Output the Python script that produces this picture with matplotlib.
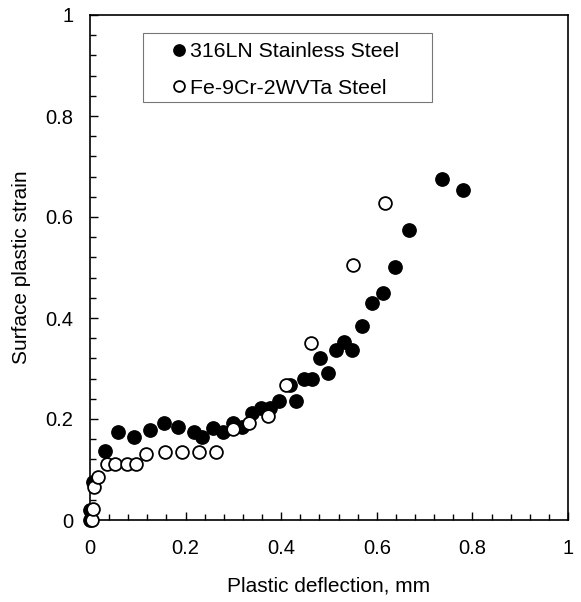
import matplotlib
matplotlib.use("Agg")
import matplotlib.pyplot as plt
from matplotlib.ticker import MultipleLocator
from matplotlib.patches import Rectangle

plt.rcParams['font.family'] = ['Liberation Sans', 'DejaVu Sans']

# 316LN Stainless Steel (filled)
ss_x = [0.0, 0.0, 0.007, 0.031, 0.058, 0.093, 0.126, 0.155, 0.185, 0.218, 0.234,
        0.257, 0.279, 0.300, 0.319, 0.338, 0.358, 0.377, 0.395, 0.418, 0.430,
        0.448, 0.464, 0.481, 0.497, 0.515, 0.532, 0.549, 0.568, 0.591, 0.613,
        0.638, 0.668, 0.736, 0.780]
ss_y = [0.0, 0.02, 0.076, 0.137, 0.175, 0.164, 0.178, 0.193, 0.184, 0.175, 0.165,
        0.183, 0.174, 0.193, 0.184, 0.211, 0.222, 0.222, 0.236, 0.267, 0.236,
        0.279, 0.279, 0.321, 0.292, 0.337, 0.352, 0.337, 0.384, 0.430, 0.449,
        0.501, 0.574, 0.675, 0.653]

# Fe-9Cr-2WVTa Steel (open)
fe_x = [0.004, 0.006, 0.009, 0.017, 0.035, 0.052, 0.077, 0.097, 0.118, 0.157,
        0.192, 0.228, 0.263, 0.300, 0.333, 0.372, 0.410, 0.462, 0.550, 0.618]
fe_y = [0.0, 0.021, 0.065, 0.086, 0.111, 0.111, 0.111, 0.111, 0.131, 0.134,
        0.134, 0.134, 0.134, 0.180, 0.193, 0.206, 0.267, 0.350, 0.505, 0.628]

labels = ["316LN Stainless Steel", "Fe-9Cr-2WVTa Steel"]
xlabel = "Plastic deflection, mm"
ylabel = "Surface plastic strain"
ticks = [0, 0.2, 0.4, 0.6, 0.8, 1]
ticklabels = ["0", "0.2", "0.4", "0.6", "0.8", "1"]

fig = plt.figure(figsize=(5.81, 6.02), dpi=100)
ax = fig.add_axes([90/581, 82/602, 478/581, 505/602])

ax.plot(ss_x, ss_y, 'o', ms=9.6, mfc='black', mec='black', mew=1, label=labels[0],
        clip_on=False, zorder=3)
ax.plot(fe_x, fe_y, 'o', ms=9.2, mfc='white', mec='black', mew=1.3, label=labels[1],
        clip_on=False, zorder=4)

ax.set_xlim(0, 1)
ax.set_ylim(0, 1)
ax.set_xticks(ticks)
ax.set_xticklabels(ticklabels)
ax.set_yticks(ticks)
ax.set_yticklabels(ticklabels)
ax.xaxis.set_minor_locator(MultipleLocator(0.04))
ax.yaxis.set_minor_locator(MultipleLocator(0.04))
ax.tick_params(which='major', direction='in', length=6, width=1, labelsize=14.5)
ax.tick_params(axis='x', which='major', pad=14)
ax.tick_params(axis='y', which='major', pad=12)
ax.tick_params(which='minor', direction='in', length=4, width=1)
for s in ax.spines.values():
    s.set_linewidth(1.2)

ax.set_xlabel(xlabel, fontsize=15, labelpad=13)
ax.set_ylabel(ylabel, fontsize=15, labelpad=10)

# legend frame
ax.add_patch(Rectangle((0.111, 0.828), 0.6045, 0.136, transform=ax.transAxes,
                       facecolor='white', edgecolor='#777777', linewidth=0.8,
                       zorder=5))
leg = ax.legend(loc='center left', bbox_to_anchor=(0.172, 0.891), borderaxespad=0,
                borderpad=0, fontsize=15.3, markerscale=0.85, handletextpad=0.22,
                handlelength=0.6, frameon=False, labelspacing=0.82)
leg.set_zorder(6)

fig.savefig("out.png", dpi=100)
